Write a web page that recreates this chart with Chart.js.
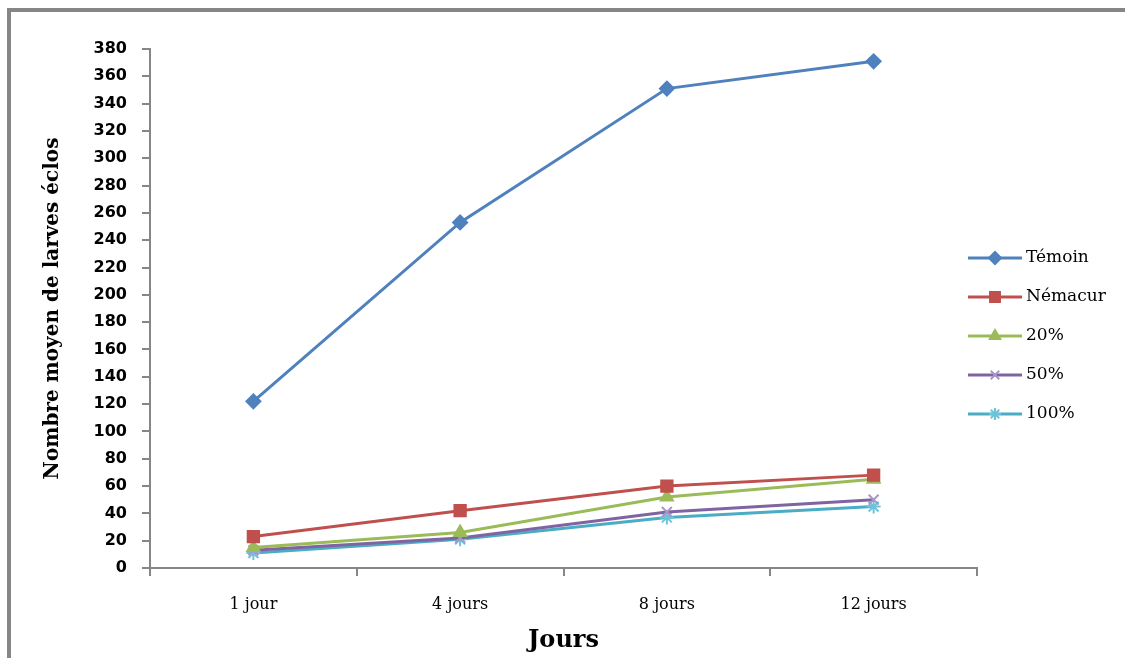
<!DOCTYPE html>
<html lang="fr">
<head>
<meta charset="UTF-8">
<title>Larves écloses</title>
<script src="https://cdn.jsdelivr.net/npm/chart.js"></script>
<style>
  html, body { margin:0; padding:0; background:#fff; }
  #wrap { position:relative; width:1125px; height:658px; overflow:hidden; }
  #frame { position:absolute; left:7px; top:8px; width:1200px; height:700px; border:4px solid #868686; box-sizing:border-box; }
  #myChart { position:absolute; left:0; top:0; }
</style>
</head>
<body>
<div id="wrap">
  <div id="frame"></div>
  <canvas id="myChart" width="1125" height="658"></canvas>
</div>
<script>
// données
const jours = ['1 jour', '4 jours', '8 jours', '12 jours'];
const temoin   = [122, 253, 351, 371];
const nemacur  = [23, 42, 60, 68];
const dose20   = [15, 26, 52, 65];
const dose50   = [13, 22, 41, 50];
const dose100  = [11, 21, 37, 45];
const yTicks = { min: 0, max: 380, step: 20 };

const serif = '"DejaVu Serif", "Liberation Serif", serif';

function serie(label, data, color, pointColor, style, radius) {
  return {
    label: label,
    data: data,
    borderColor: color,
    backgroundColor: pointColor,
    pointBackgroundColor: pointColor,
    pointBorderColor: pointColor,
    pointStyle: style,
    pointRadius: radius,
    pointBorderWidth: 2,
    borderWidth: 3,
    tension: 0
  };
}

const datasets = [
  serie('Témoin', temoin, '#4F81BD', '#4F81BD', 'rectRot', 7),
  serie('Némacur', nemacur, '#C0504D', '#C0504D', 'rect', 8),
  serie('20%', dose20, '#9BBB59', '#9BBB59', 'triangle', 7),
  serie('50%', dose50, '#8064A2', '#A996C8', 'crossRot', 7),
  serie('100%', dose100, '#4BACC6', '#6CC4DA', 'star', 7)
];

// légende à droite : ligne + marqueur, comme dans Excel
const legendeExcel = {
  id: 'legendeExcel',
  afterDraw(chart) {
    const ctx = chart.ctx;
    const x0 = chart.chartArea.right - 9;
    const x1 = x0 + 54;
    ctx.save();
    chart.data.datasets.forEach((ds, i) => {
      const y = 258 + i * 39;
      ctx.strokeStyle = ds.borderColor;
      ctx.lineWidth = 3;
      ctx.beginPath();
      ctx.moveTo(x0, y);
      ctx.lineTo(x1, y);
      ctx.stroke();
      ctx.fillStyle = ds.pointBackgroundColor;
      ctx.strokeStyle = ds.pointBorderColor;
      ctx.lineWidth = 2;
      if (Chart.helpers && Chart.helpers.drawPoint) {
        Chart.helpers.drawPoint(ctx, { pointStyle: ds.pointStyle, radius: ds.pointRadius - 1, rotation: 0, borderWidth: 2 }, (x0 + x1) / 2, y);
      }
      ctx.fillStyle = '#000';
      ctx.font = '17px ' + serif;
      ctx.textBaseline = 'middle';
      ctx.textAlign = 'left';
      ctx.fillText(ds.label, x1 + 4, y);
    });
    ctx.restore();
  }
};

var ctx = document.querySelector('#myChart').getContext('2d');
var myChart = new Chart(ctx, {
  type: 'line',
  data: { labels: jours, datasets: datasets },
  options: {
    responsive: false,
    animation: false,
    layout: { padding: { top: 49, right: 148, left: 0, bottom: 0 } },
    plugins: { legend: { display: false }, tooltip: { enabled: false } },
    scales: {
      x: {
        offset: true,
        afterFit: s => { s.height = 90; },
        border: { color: '#868686', width: 2 },
        grid: { offset: true, drawOnChartArea: false, drawTicks: true, tickLength: 8, color: '#868686', lineWidth: 2 },
        ticks: { color: '#000', padding: 19, font: { family: serif, size: 16 } },
        title: { display: true, text: 'Jours', color: '#000', padding: { top: 0, bottom: 3 },
                 font: { family: serif, size: 24, weight: 'bold' } }
      },
      y: {
        min: yTicks.min, max: yTicks.max,
        afterFit: s => { s.width = 150; },
        border: { color: '#868686', width: 2 },
        grid: { drawOnChartArea: false, drawTicks: true, tickLength: 8, color: '#868686', lineWidth: 2 },
        ticks: { stepSize: yTicks.step, color: '#000', padding: 15, autoSkip: false,
                 font: { family: '"DejaVu Sans", sans-serif', size: 16, weight: 'bold' } },
        title: { display: true, text: 'Nombre moyen de larves éclos', color: '#000', padding: { top: 41, bottom: 0 },
                 font: { family: serif, size: 20, weight: 'bold' } }
      }
    }
  },
  plugins: [legendeExcel]
});
</script>
</body>
</html>
